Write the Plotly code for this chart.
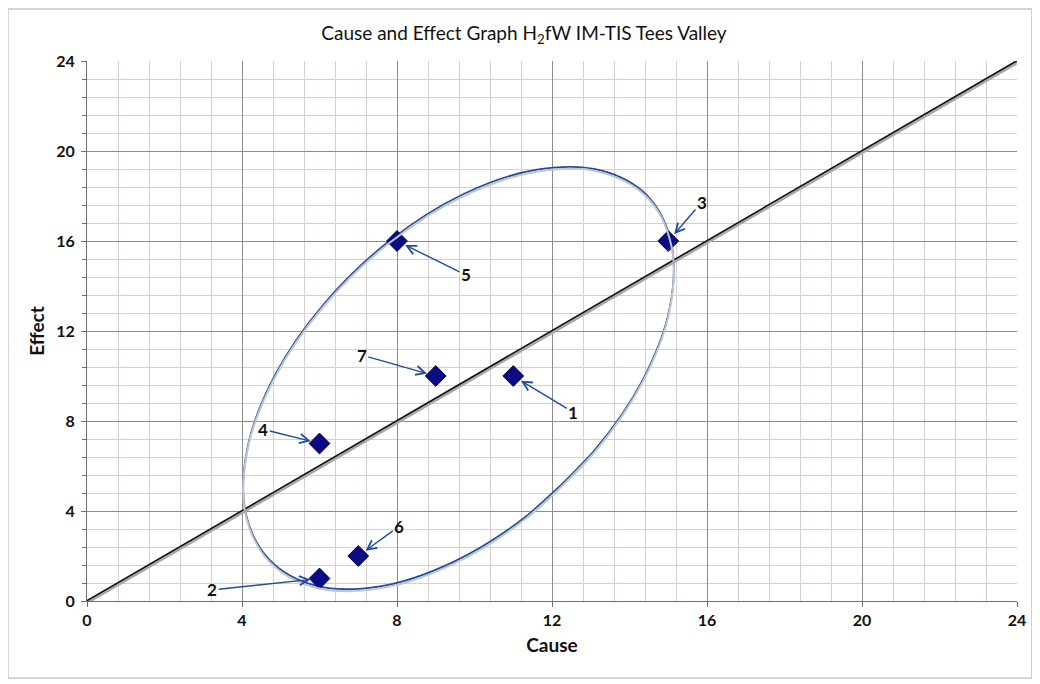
import plotly.graph_objects as go

# ---------------------------
# Data
# ---------------------------

cause = [11, 6, 15, 6, 8, 7, 9]
effect = [10, 1, 16, 7, 16, 2, 10]
labels = ["1", "2", "3", "4", "5", "6", "7"]

# where each number label sits
label_x = [12.55, 3.23, 15.87, 4.55, 9.78, 8.06, 7.09]
label_y = [8.39, 0.49, 17.73, 7.63, 14.49, 3.33, 10.93]

# equality line
diag_x = [0, 24]
diag_y = [0, 24]

# hand drawn ellipse (runs round once, small overlap at the end)
ell_x = [13.06, 11.37, 9.46, 7.56, 5.91, 4.71, 4.09, 4.14, 4.84, 6.12,
         7.81, 9.72, 11.61, 13.26, 14.47, 15.08, 15.04, 14.34, 13.06, 11.37]
ell_y = [6.62, 3.81, 1.74, 0.65, 0.68, 1.83, 3.95, 6.79, 10.0, 13.21,
         16.01, 18.09, 19.17, 19.14, 18.0, 15.88, 13.04, 9.82, 6.62, 3.81]

tick_vals = [0, 4, 8, 12, 16, 20, 24]
tick_text = ["0", "4", "8", "12", "16", "20", "24"]

FONT = "Lato"
BLUE = "#1f4c9a"

# ---------------------------
# Figure
# ---------------------------

fig = go.Figure()

# soft shadows, drawn on a copy of the y axis nudged a couple of pixels down
fig.add_trace(go.Scatter(x=ell_x, y=ell_y, mode="lines", line_shape="spline", yaxis="y2",
                         line=dict(color="#c2c6ca", width=2), hoverinfo="skip"))
fig.add_trace(go.Scatter(x=diag_x, y=diag_y, mode="lines", yaxis="y2",
                         line=dict(color="#a8a8a8", width=2.5), hoverinfo="skip"))

fig.add_trace(go.Scatter(x=ell_x, y=ell_y, mode="lines", line_shape="spline",
                         line=dict(color=BLUE, width=1.8), hoverinfo="skip"))
fig.add_trace(go.Scatter(x=diag_x, y=diag_y, mode="lines",
                         line=dict(color="#111111", width=2.2), hoverinfo="skip"))

fig.add_trace(go.Scatter(x=cause, y=effect, mode="markers", text=labels,
                         marker=dict(symbol="diamond", size=16, color="#0b0b85",
                                     line=dict(color="#05054a", width=1))))

for px, py, lx, ly, t in zip(cause, effect, label_x, label_y, labels):
    fig.add_annotation(x=px, y=py, ax=lx, ay=ly, axref="x", ayref="y",
                       text=t, showarrow=True, arrowhead=5, arrowsize=1.3,
                       arrowwidth=1.4, arrowcolor=BLUE, standoff=9,
                       font=dict(family=FONT, size=17, color="#111111", weight="bold"))

# outer chart border
fig.add_shape(type="rect", xref="paper", yref="paper",
              x0=-0.085, x1=1.016, y0=-0.1426, y1=1.0963,
              line=dict(color="#c8c8c8", width=1.5), layer="below")

axis_common = dict(
    range=[0, 24], tickmode="array", tickvals=tick_vals,
    ticktext=["<b>%s</b>" % s for s in tick_text],
    showgrid=True, gridcolor="#8c8c8c", gridwidth=1,
    zeroline=False, showline=True, linecolor="#6e6e6e", linewidth=1.2,
    ticks="outside", ticklen=5, tickcolor="#6e6e6e",
    tickfont=dict(family=FONT, size=16, color="#111111"),
)

shift = 2 / 22.5  # two pixels in data units

fig.update_layout(
    width=1032, height=676,
    margin=dict(l=79, r=23, t=53, b=83),
    paper_bgcolor="white", plot_bgcolor="white",
    showlegend=False,
    title=dict(text="Cause and Effect Graph H<sub>2</sub>fW IM-TIS Tees Valley",
               x=0.5, xanchor="center", y=0.962, yanchor="middle",
               font=dict(family=FONT, size=19, color="#111111")),
    xaxis=dict(**axis_common,
               title=dict(text="Cause", standoff=10,
                          font=dict(family=FONT, size=19, color="#111111", weight="bold")),
               minor=dict(dtick=0.8, showgrid=True, gridcolor="#d8cfd0", gridwidth=1)),
    yaxis=dict(**axis_common, ticklabelstandoff=3,
               title=dict(text="Effect", standoff=6,
                          font=dict(family=FONT, size=19, color="#111111", weight="bold")),
               minor=dict(dtick=0.8, showgrid=True, gridcolor="#d8cfd0", gridwidth=1,
                          ticks="outside", ticklen=4, tickcolor="#6e6e6e")),
    yaxis2=dict(range=[shift, 24 + shift], overlaying="y", visible=False),
)

fig.write_html("out.html")
